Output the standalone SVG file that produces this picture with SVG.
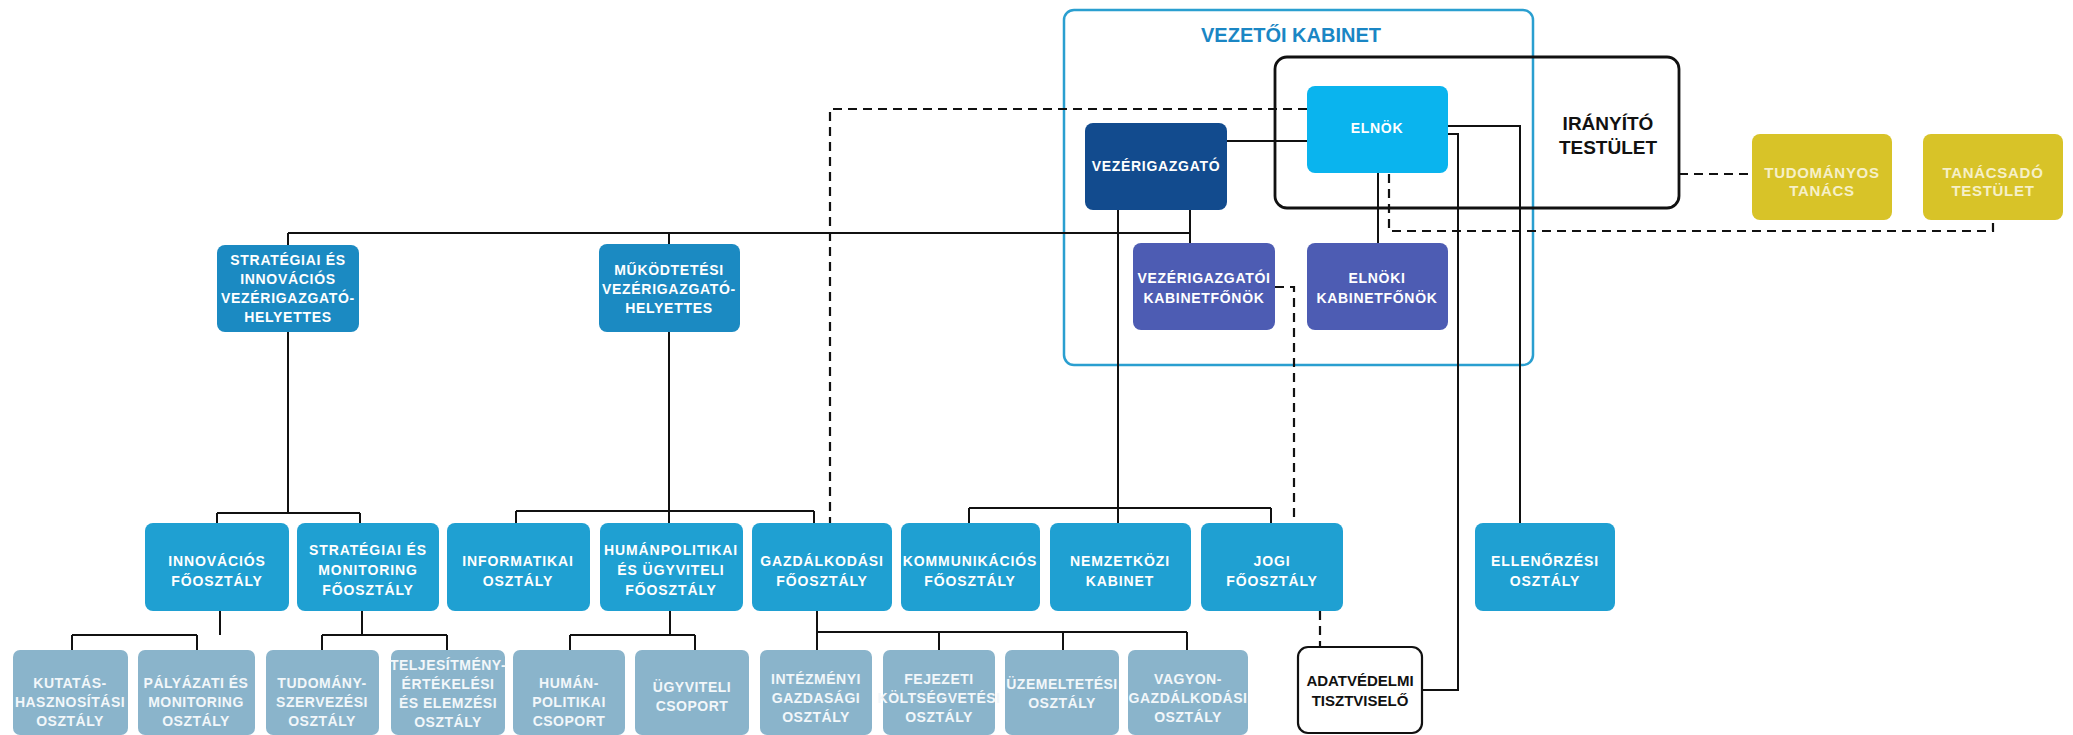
<svg xmlns="http://www.w3.org/2000/svg" width="2073" height="735" viewBox="0 0 2073 735">
<style>
text{font-family:"Liberation Sans",Arial,sans-serif;font-weight:bold;text-anchor:middle}
.t2{font-size:14px;letter-spacing:0.7px;fill:#fff}
.t3{font-size:14px;letter-spacing:0.9px;fill:#fff}
.t4{font-size:14px;letter-spacing:0.5px;fill:#f2f7fa}
.ty{font-size:15px;letter-spacing:0.7px;fill:#f6f0c8}
.ln{fill:none;stroke:#111;stroke-width:2}
.dl{fill:none;stroke:#111;stroke-width:2.2;stroke-dasharray:9 6}
.r2{fill:#1b8ac2}
.r3{fill:#1fa0d2}
.r4{fill:#8ab4cb}
.yl{fill:#d8c328}
.kf{fill:#4d5cb3}
</style>
<rect width="2073" height="735" fill="#fff"/>
<g id="vezetoi-kabinet">
<rect x="1064" y="10" width="469" height="355" rx="10" fill="none" stroke="#2a9fd0" stroke-width="2.5"/>
<text x="1291" y="42" style="font-size:20px;fill:#1a86c4">VEZETŐI KABINET</text>
</g>
<g id="iranyito-testulet">
<rect x="1275" y="57" width="404" height="151" rx="12" fill="none" stroke="#111" stroke-width="2.8"/>
<text x="1608" y="130" style="font-size:19px;fill:#111">IRÁNYÍTÓ</text>
<text x="1608" y="154" style="font-size:19px;fill:#111">TESTÜLET</text>
</g>
<g id="connectors">
<path class="ln" d="M288 233H1190M288 233V245M669 233V244M1190 210V243M1118 210V508M969 508H1271M969 508V523M1271 508V523M1118 508V523"/>
<path class="ln" d="M1227 141H1307M1378 173V243M1448 126H1520V523M1448 134H1458V690H1422"/>
<path class="ln" d="M288 332V513M217 513H360M217 513V523M360 513V523"/>
<path class="ln" d="M669 332V523M516 511H814M516 511V523M814 511V523"/>
<path class="ln" d="M220 611V635M72 635H197M72 635V650M197 635V650"/>
<path class="ln" d="M362 611V635M322 635H447M322 635V650M447 635V650"/>
<path class="ln" d="M670 611V635M570 635H695M570 635V650M695 635V650"/>
<path class="ln" d="M817 611V632H1187M817 632V650M939 632V650M1063 632V650M1187 632V650"/>
<path class="dl" d="M1307 109H830V523"/>
<path class="dl" d="M1275 287H1294V523"/>
<path class="dl" d="M1320 611V647"/>
<path class="dl" d="M1679 174H1751"/>
<path class="dl" d="M1389 174V231H1993V220"/>
</g>
<g id="elnok">
<rect x="1307" y="86" width="141" height="87" rx="8" fill="#0ab4ee"/>
<text class="t2" x="1377" y="133">ELNÖK</text>
</g>
<g id="vezerigazgato">
<rect x="1085" y="123" width="142" height="87" rx="8" fill="#124b8e"/>
<text class="t2" x="1156" y="171">VEZÉRIGAZGATÓ</text>
</g>
<g id="vezerigazgatoi-kabinetfonok">
<rect class="kf" x="1133" y="243" width="142" height="87" rx="8"/>
<text class="t2" x="1204" y="283">VEZÉRIGAZGATÓI</text>
<text class="t2" x="1204" y="303">KABINETFŐNÖK</text>
</g>
<g id="elnoki-kabinetfonok">
<rect class="kf" x="1307" y="243" width="141" height="87" rx="8"/>
<text class="t2" x="1377" y="283">ELNÖKI</text>
<text class="t2" x="1377" y="303">KABINETFŐNÖK</text>
</g>
<g id="tudomanyos-tanacs">
<rect class="yl" x="1752" y="134" width="140" height="86" rx="8"/>
<text class="ty" x="1822" y="178">TUDOMÁNYOS</text>
<text class="ty" x="1822" y="196">TANÁCS</text>
</g>
<g id="tanacsado-testulet">
<rect class="yl" x="1923" y="134" width="140" height="86" rx="8"/>
<text class="ty" x="1993" y="178">TANÁCSADÓ</text>
<text class="ty" x="1993" y="196">TESTÜLET</text>
</g>
<g id="strategiai-vzh">
<rect class="r2" x="217" y="245" width="142" height="87" rx="8"/>
<text class="t2" x="288" y="265">STRATÉGIAI ÉS</text>
<text class="t2" x="288" y="284">INNOVÁCIÓS</text>
<text class="t2" x="288" y="303">VEZÉRIGAZGATÓ-</text>
<text class="t2" x="288" y="322">HELYETTES</text>
</g>
<g id="mukodtetesi-vzh">
<rect class="r2" x="599" y="244" width="141" height="88" rx="8"/>
<text class="t2" x="669" y="275">MŰKÖDTETÉSI</text>
<text class="t2" x="669" y="294">VEZÉRIGAZGATÓ-</text>
<text class="t2" x="669" y="313">HELYETTES</text>
</g>
<g id="innovacios-foosztaly">
<rect class="r3" x="145" y="523" width="144" height="88" rx="8"/>
<text class="t3" x="217" y="566">INNOVÁCIÓS</text>
<text class="t3" x="217" y="586">FŐOSZTÁLY</text>
</g>
<g id="strategiai-monitoring-foosztaly">
<rect class="r3" x="297" y="523" width="142" height="88" rx="8"/>
<text class="t3" x="368" y="555">STRATÉGIAI ÉS</text>
<text class="t3" x="368" y="575">MONITORING</text>
<text class="t3" x="368" y="595">FŐOSZTÁLY</text>
</g>
<g id="informatikai-osztaly">
<rect class="r3" x="447" y="523" width="143" height="88" rx="8"/>
<text class="t3" x="518" y="566">INFORMATIKAI</text>
<text class="t3" x="518" y="586">OSZTÁLY</text>
</g>
<g id="humanpolitikai-foosztaly">
<rect class="r3" x="600" y="523" width="143" height="88" rx="8"/>
<text class="t3" x="671" y="555">HUMÁNPOLITIKAI</text>
<text class="t3" x="671" y="575">ÉS ÜGYVITELI</text>
<text class="t3" x="671" y="595">FŐOSZTÁLY</text>
</g>
<g id="gazdalkodasi-foosztaly">
<rect class="r3" x="752" y="523" width="140" height="88" rx="8"/>
<text class="t3" x="822" y="566">GAZDÁLKODÁSI</text>
<text class="t3" x="822" y="586">FŐOSZTÁLY</text>
</g>
<g id="kommunikacios-foosztaly">
<rect class="r3" x="901" y="523" width="139" height="88" rx="8"/>
<text class="t3" x="970" y="566">KOMMUNIKÁCIÓS</text>
<text class="t3" x="970" y="586">FŐOSZTÁLY</text>
</g>
<g id="nemzetkozi-kabinet">
<rect class="r3" x="1050" y="523" width="141" height="88" rx="8"/>
<text class="t3" x="1120" y="566">NEMZETKÖZI</text>
<text class="t3" x="1120" y="586">KABINET</text>
</g>
<g id="jogi-foosztaly">
<rect class="r3" x="1201" y="523" width="142" height="88" rx="8"/>
<text class="t3" x="1272" y="566">JOGI</text>
<text class="t3" x="1272" y="586">FŐOSZTÁLY</text>
</g>
<g id="ellenorzesi-osztaly">
<rect class="r3" x="1475" y="523" width="140" height="88" rx="8"/>
<text class="t3" x="1545" y="566">ELLENŐRZÉSI</text>
<text class="t3" x="1545" y="586">OSZTÁLY</text>
</g>
<g id="kutatas-hasznositasi">
<rect class="r4" x="13" y="650" width="115" height="85" rx="7"/>
<text class="t4" x="70" y="688">KUTATÁS-</text>
<text class="t4" x="70" y="707">HASZNOSÍTÁSI</text>
<text class="t4" x="70" y="726">OSZTÁLY</text>
</g>
<g id="palyazati-monitoring">
<rect class="r4" x="138" y="650" width="117" height="85" rx="7"/>
<text class="t4" x="196" y="688">PÁLYÁZATI ÉS</text>
<text class="t4" x="196" y="707">MONITORING</text>
<text class="t4" x="196" y="726">OSZTÁLY</text>
</g>
<g id="tudomanyszervezesi">
<rect class="r4" x="266" y="650" width="113" height="85" rx="7"/>
<text class="t4" x="322" y="688">TUDOMÁNY-</text>
<text class="t4" x="322" y="707">SZERVEZÉSI</text>
<text class="t4" x="322" y="726">OSZTÁLY</text>
</g>
<g id="teljesitmenyertekelesi">
<rect class="r4" x="391" y="650" width="114" height="85" rx="7"/>
<text class="t4" x="448" y="670">TELJESÍTMÉNY-</text>
<text class="t4" x="448" y="689">ÉRTÉKELÉSI</text>
<text class="t4" x="448" y="708">ÉS ELEMZÉSI</text>
<text class="t4" x="448" y="727">OSZTÁLY</text>
</g>
<g id="humanpolitikai-csoport">
<rect class="r4" x="513" y="650" width="112" height="85" rx="7"/>
<text class="t4" x="569" y="688">HUMÁN-</text>
<text class="t4" x="569" y="707">POLITIKAI</text>
<text class="t4" x="569" y="726">CSOPORT</text>
</g>
<g id="ugyviteli-csoport">
<rect class="r4" x="635" y="650" width="114" height="85" rx="7"/>
<text class="t4" x="692" y="692">ÜGYVITELI</text>
<text class="t4" x="692" y="711">CSOPORT</text>
</g>
<g id="intezmenyi-gazdasagi">
<rect class="r4" x="760" y="650" width="112" height="85" rx="7"/>
<text class="t4" x="816" y="684">INTÉZMÉNYI</text>
<text class="t4" x="816" y="703">GAZDASÁGI</text>
<text class="t4" x="816" y="722">OSZTÁLY</text>
</g>
<g id="fejezeti-koltsegvetesi">
<rect class="r4" x="883" y="650" width="112" height="85" rx="7"/>
<text class="t4" x="939" y="684">FEJEZETI</text>
<text class="t4" x="939" y="703">KÖLTSÉGVETÉSI</text>
<text class="t4" x="939" y="722">OSZTÁLY</text>
</g>
<g id="uzemeltetesi">
<rect class="r4" x="1005" y="650" width="114" height="85" rx="7"/>
<text class="t4" x="1062" y="689">ÜZEMELTETÉSI</text>
<text class="t4" x="1062" y="708">OSZTÁLY</text>
</g>
<g id="vagyongazdalkodasi">
<rect class="r4" x="1128" y="650" width="120" height="85" rx="7"/>
<text class="t4" x="1188" y="684">VAGYON-</text>
<text class="t4" x="1188" y="703">GAZDÁLKODÁSI</text>
<text class="t4" x="1188" y="722">OSZTÁLY</text>
</g>
<g id="adatvedelmi-tisztviselo">
<rect x="1298" y="647" width="124" height="86" rx="10" fill="#fff" stroke="#111" stroke-width="2.2"/>
<text x="1360" y="686" style="font-size:15px;fill:#111">ADATVÉDELMI</text>
<text x="1360" y="706" style="font-size:15px;fill:#111">TISZTVISELŐ</text>
</g>
</svg>
